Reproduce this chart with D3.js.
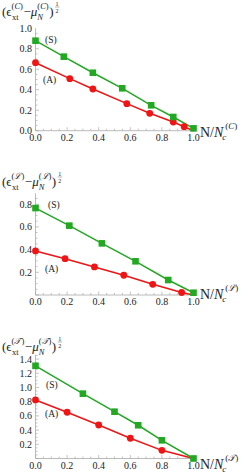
<!DOCTYPE html>
<html>
<head>
<meta charset="utf-8">
<script src="https://cdn.jsdelivr.net/npm/d3@7"></script>
<style>
  body { margin: 0; background: #fff; }
  text { font-family: "Liberation Serif", "DejaVu Serif", serif; fill: #222; }
</style>
</head>
<body>
<div id="chart"></div>
<script>
// three stacked panels, (S) green squares, (A) red circles
var svgWidth = 251;
var svgHeight = 475;

// panel 1 : script C
var xS1 = [0, 0.179, 0.363, 0.549, 0.732, 0.872, 1.0];
var yS1 = [0.879, 0.723, 0.566, 0.414, 0.248, 0.134, 0.023];
var xA1 = [0, 0.217, 0.363, 0.578, 0.723, 0.872, 0.941];
var yA1 = [0.664, 0.508, 0.407, 0.264, 0.17, 0.085, 0.039];
var yTicks1 = [0, 0.2, 0.4, 0.6, 0.8, 1.0];

// panel 2 : script L
var xS2 = [0, 0.214, 0.42, 0.633, 0.84, 1.0];
var yS2 = [0.766, 0.611, 0.455, 0.297, 0.132, 0.02];
var xA2 = [0, 0.187, 0.373, 0.559, 0.742, 0.925];
var yA2 = [0.388, 0.32, 0.247, 0.174, 0.094, 0.022];
var yTicks2 = [0.2, 0.4, 0.6, 0.8];

// panel 3 : script T
var xS3 = [0, 0.3, 0.5, 0.65, 0.8, 1.0];
var yS3 = [1.305, 0.913, 0.659, 0.468, 0.256, 0];
var xA3 = [0, 0.2, 0.4, 0.6, 0.8];
var yA3 = [0.824, 0.651, 0.472, 0.285, 0.115];
var yTicks3 = [0.2, 0.4, 0.6, 0.8, 1.0, 1.2, 1.4];

var xTicks = [0, 0.2, 0.4, 0.6, 0.8, 1.0];
var endPoint = [1.0, 0]; // both curves vanish at N = Nc
var letters = ["C", "\u2112", "\uD835\uDCAF"];

var green = "#22a822";
var red = "#f01414";

var panels = [
  {xS: xS1, yS: yS1, xA: xA1, yA: yA1, yTicks: yTicks1, yMax: 1.0, letter: letters[0],
   y0: 130.7, yTop: 28.3, titleY: 16, xTitleY: 137, sLab: [45, 43], aLab: [43, 83]},
  {xS: xS2, yS: yS2, xA: xA2, yA: yA2, yTicks: yTicks2, yMax: 0.896, letter: letters[1],
   y0: 295, yTop: 193.3, titleY: 186, xTitleY: 299, sLab: [48, 208], aLab: [45, 272]},
  {xS: xS3, yS: yS3, xA: xA3, yA: yA3, yTicks: yTicks3, yMax: 1.46, letter: letters[2],
   y0: 458.5, yTop: 354.8, titleY: 351, xTitleY: 469, sLab: [46, 388], aLab: [45, 417]}
];

var svg = d3.select("#chart")
  .append("svg")
  .attr("width", svgWidth)
  .attr("height", svgHeight);

var xScale = d3.scaleLinear().domain([0, 1]).range([35.5, 193.5]);

// draws a main piece then returns x after it
function piece(g, x, y, size, html) {
  var t = g.append("text").attr("x", x).attr("y", y).attr("font-size", size).html(html);
  return x + t.node().getComputedTextLength();
}

function drawTitle(g, letter, y) {
  // (eps_xt^(X) - mu_N^(X))^(1/2)
  var sup = "(<tspan font-style='italic'>" + letter + "</tspan>)";
  var x = piece(g, 2, y, 13, "(\u03F5");
  var a = piece(g, x + 0.5, y + 3.5, 8.5, "xt");
  var b = piece(g, x, y - 7.5, 8.5, sup);
  x = Math.max(a, b) + 0.5;
  x = piece(g, x, y, 13, "\u2212<tspan font-style='italic'>\u03BC</tspan>");
  a = piece(g, x, y + 3.5, 8.5, "<tspan font-style='italic'>N</tspan>");
  b = piece(g, x, y - 7.5, 8.5, sup);
  x = Math.max(a, b) + 0.5;
  x = piece(g, x, y, 13, ")") + 2;
  g.append("text").attr("x", x).attr("y", y - 10).attr("font-size", 6).text("1");
  g.append("line").attr("x1", x - 0.5).attr("x2", x + 4).attr("y1", y - 9).attr("y2", y - 9)
    .attr("stroke", "#444").attr("stroke-width", 0.4);
  g.append("text").attr("x", x).attr("y", y - 3.5).attr("font-size", 6).text("2");
}

function drawXTitle(g, letter, y) {
  var x = piece(g, 200, y, 14, "N/<tspan font-style='italic'>N</tspan>");
  piece(g, x - 1, y + 2.5, 9, "<tspan font-style='italic'>c</tspan>");
  piece(g, x + 2, y - 8.5, 9, "(<tspan font-style='italic'>" + letter + "</tspan>)");
}

panels.forEach(function(p) {
  var g = svg.append("g");
  var yScale = d3.scaleLinear().domain([0, p.yMax]).range([p.y0, p.yTop]);

  // minor ticks
  var minorX = d3.range(0, 1.0001, 0.05);
  var minorY = d3.range(0, p.yMax, 0.05);

  g.append("g").selectAll("line").data(minorX).join("line")
    .attr("x1", d => xScale(d)).attr("x2", d => xScale(d))
    .attr("y1", p.y0).attr("y2", d => p.y0 - (xTicks.some(t => Math.abs(t - d) < 1e-6) ? 3.5 : 2))
    .attr("stroke", "#aaa").attr("stroke-width", 0.7);

  g.append("g").selectAll("line").data(minorY).join("line")
    .attr("y1", d => yScale(d)).attr("y2", d => yScale(d))
    .attr("x1", xScale(0)).attr("x2", d => xScale(0) + (Math.abs(d * 5 - Math.round(d * 5)) < 1e-6 ? 3.5 : 2))
    .attr("stroke", "#aaa").attr("stroke-width", 0.7);

  // axes lines
  g.append("line").attr("x1", xScale(0)).attr("x2", xScale(1) + 2)
    .attr("y1", p.y0).attr("y2", p.y0).attr("stroke", "#aaa").attr("stroke-width", 0.8);
  g.append("line").attr("x1", xScale(0)).attr("x2", xScale(0))
    .attr("y1", p.y0).attr("y2", p.yTop).attr("stroke", "#aaa").attr("stroke-width", 0.8);

  // tick labels
  g.append("g").selectAll("text").data(xTicks).join("text")
    .attr("x", d => xScale(d)).attr("y", p.y0 + 10)
    .attr("text-anchor", "middle").attr("font-size", 10)
    .text(d => d3.format(".1f")(d));
  g.append("g").selectAll("text").data(p.yTicks).join("text")
    .attr("x", 32).attr("y", d => yScale(d) + 3.5)
    .attr("text-anchor", "end").attr("font-size", 10)
    .text(d => d3.format(".1f")(d));

  // lines
  var line = d3.line().x(d => xScale(d[0])).y(d => yScale(d[1]));
  var sPts = p.xS.map((x, i) => [x, p.yS[i]]);
  var aPts = p.xA.map((x, i) => [x, p.yA[i]]);

  g.append("path").datum(aPts.concat([endPoint]))
    .attr("d", line).attr("fill", "none").attr("stroke", red).attr("stroke-width", 1.5);
  g.append("path").datum(sPts.concat([endPoint]))
    .attr("d", line).attr("fill", "none").attr("stroke", green).attr("stroke-width", 1.5);

  g.append("g").selectAll("circle").data(aPts).join("circle")
    .attr("cx", d => xScale(d[0])).attr("cy", d => yScale(d[1]))
    .attr("r", 3.4).attr("fill", red);
  g.append("g").selectAll("rect").data(sPts).join("rect")
    .attr("x", d => xScale(d[0]) - 3.3).attr("y", d => yScale(d[1]) - 3.3)
    .attr("width", 6.6).attr("height", 6.6).attr("fill", green);

  // curve labels
  g.append("text").attr("x", p.sLab[0]).attr("y", p.sLab[1]).attr("font-size", 9.5).text("(S)");
  g.append("text").attr("x", p.aLab[0]).attr("y", p.aLab[1]).attr("font-size", 9.5).text("(A)");

  drawTitle(g, p.letter, p.titleY);
  drawXTitle(g, p.letter, p.xTitleY);
});
</script>
</body>
</html>
